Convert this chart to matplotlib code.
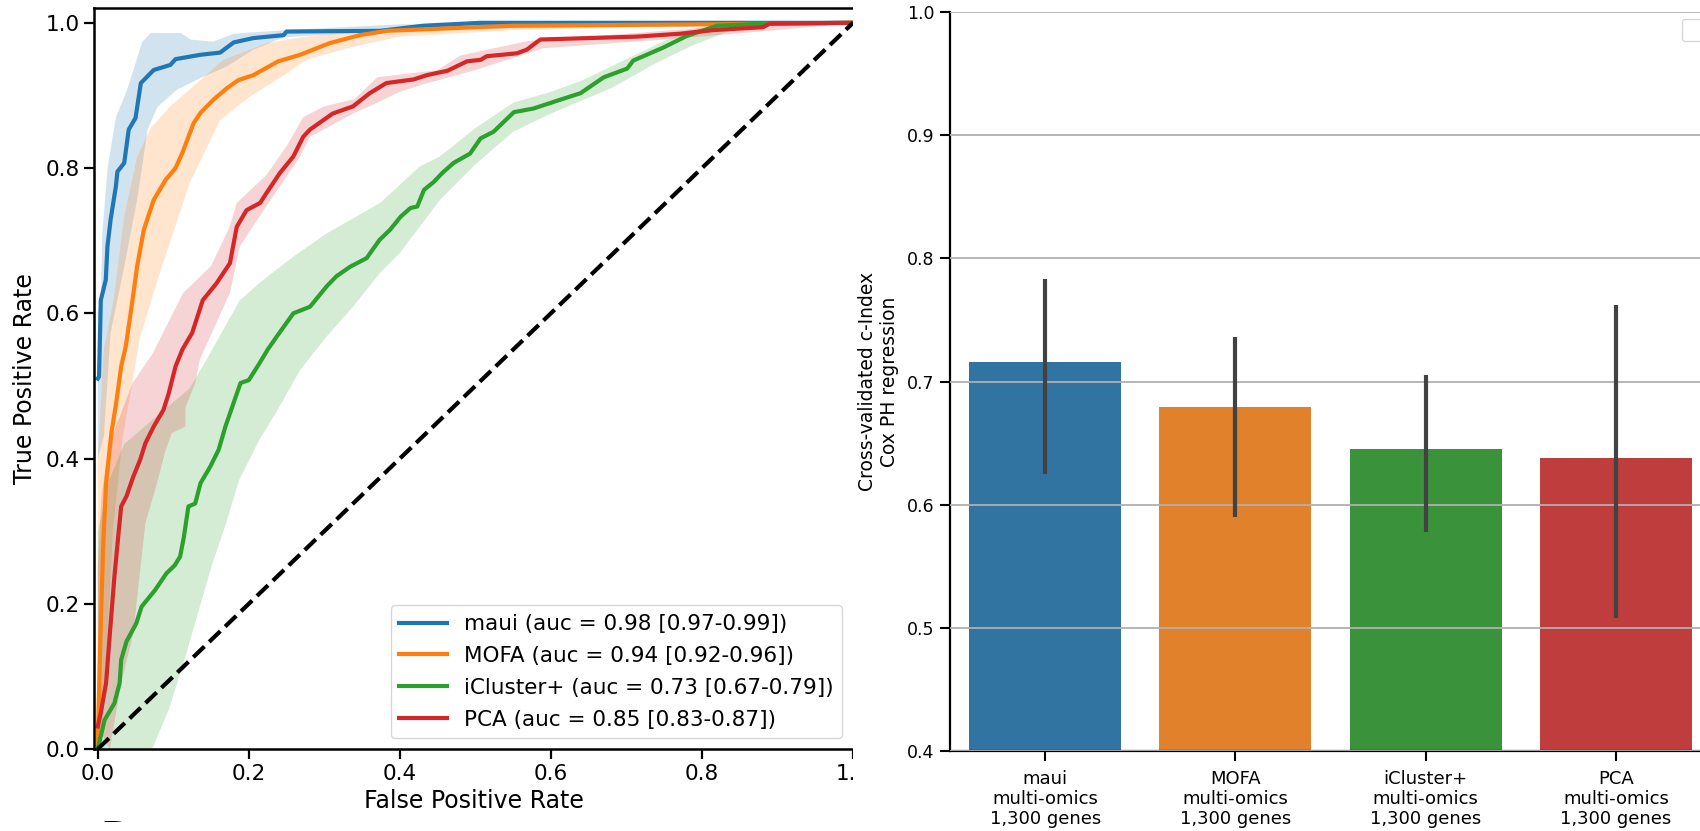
# -*- coding: utf-8 -*-
import numpy as np
import matplotlib
matplotlib.use('Agg')
import matplotlib.pyplot as plt
from matplotlib.patches import Rectangle

### ROC data (mean curve and band edges)
methods = ['maui', 'MOFA', 'iCluster+', 'PCA']
auc_labels = ['0.98 [0.97-0.99]', '0.94 [0.92-0.96]',
              '0.73 [0.67-0.79]', '0.85 [0.83-0.87]']

maui_fpr = [0.0, 0.0017, 0.004, 0.0106, 0.0128, 0.017, 0.024, 0.026, 0.035,
            0.041, 0.050, 0.057, 0.074, 0.096, 0.103, 0.136, 0.162, 0.180,
            0.206, 0.246, 0.250, 0.374, 0.431, 0.507, 1.0]
maui_tpr = [0.51, 0.513, 0.618, 0.646, 0.692, 0.729, 0.775, 0.795, 0.807,
            0.853, 0.869, 0.917, 0.935, 0.942, 0.950, 0.956, 0.959, 0.973,
            0.979, 0.983, 0.988, 0.989, 0.996, 1.0, 1.0]
maui_up_fpr = [0.0, 0.0, 0.004, 0.006, 0.013, 0.024, 0.039, 0.059, 0.07, 0.11,
               0.123, 0.153, 0.18, 0.25, 0.40, 1.0]
maui_up_tpr = [0.51, 0.60, 0.618, 0.71, 0.80, 0.87, 0.908, 0.974, 0.986, 0.986,
               0.977, 0.974, 0.985, 0.99, 0.998, 1.0]
maui_lo_fpr = [0.0, 0.008, 0.017, 0.035, 0.052, 0.066, 0.079, 0.105, 0.136,
               0.171, 0.206, 0.246, 0.40, 1.0]
maui_lo_tpr = [0.40, 0.43, 0.573, 0.664, 0.756, 0.853, 0.884, 0.908, 0.924,
               0.94, 0.963, 0.98, 0.99, 1.0]

mofa_fpr = [0.0, 0.0, 0.003, 0.007, 0.011, 0.018, 0.025, 0.031, 0.037, 0.046,
            0.052, 0.061, 0.074, 0.090, 0.103, 0.112, 0.127, 0.136, 0.153,
            0.171, 0.186, 0.206, 0.239, 0.268, 0.307, 0.347, 0.383, 0.55,
            0.82, 1.0]
mofa_tpr = [0.0, 0.01, 0.136, 0.274, 0.366, 0.435, 0.481, 0.527, 0.554, 0.618,
            0.664, 0.715, 0.756, 0.784, 0.800, 0.821, 0.862, 0.876, 0.894,
            0.910, 0.921, 0.928, 0.947, 0.956, 0.972, 0.983, 0.989, 0.996,
            0.998, 1.0]
mofa_up_fpr = [0.0, 0.0, 0.008, 0.021, 0.035, 0.052, 0.07, 0.096, 0.126, 0.166,
               0.224, 0.268, 0.31, 0.38, 0.5, 1.0]
mofa_up_tpr = [0.0, 0.40, 0.55, 0.618, 0.733, 0.815, 0.855, 0.885, 0.912, 0.949,
               0.972, 0.98, 0.985, 0.99, 0.998, 1.0]
mofa_lo_fpr = [0.005, 0.01, 0.02, 0.033, 0.045, 0.056, 0.082, 0.122, 0.162,
               0.201, 0.25, 0.276, 0.334, 0.4, 0.55, 1.0]
mofa_lo_tpr = [0.0, 0.1, 0.3, 0.43, 0.50, 0.567, 0.655, 0.78, 0.866, 0.898,
               0.93, 0.949, 0.966, 0.981, 0.99, 1.0]

iclus_fpr = [0.0, 0.009, 0.022, 0.029, 0.031, 0.038, 0.051, 0.058, 0.076,
             0.091, 0.102, 0.109, 0.114, 0.120, 0.129, 0.136, 0.149, 0.160,
             0.169, 0.178, 0.189, 0.200, 0.214, 0.225, 0.237, 0.259, 0.281,
             0.303, 0.316, 0.334, 0.356, 0.373, 0.387, 0.401, 0.414, 0.423,
             0.432, 0.445, 0.456, 0.471, 0.493, 0.507, 0.524, 0.551, 0.577,
             0.612, 0.639, 0.670, 0.701, 0.709, 0.749, 0.780, 0.820, 0.886, 1.0]
iclus_tpr = [0.0, 0.040, 0.063, 0.091, 0.123, 0.148, 0.173, 0.196, 0.219,
             0.242, 0.253, 0.265, 0.292, 0.334, 0.338, 0.366, 0.389, 0.412,
             0.444, 0.471, 0.504, 0.508, 0.531, 0.550, 0.568, 0.600, 0.609,
             0.637, 0.651, 0.664, 0.676, 0.701, 0.715, 0.733, 0.745, 0.747,
             0.770, 0.781, 0.793, 0.807, 0.820, 0.841, 0.850, 0.877, 0.882,
             0.894, 0.903, 0.925, 0.937, 0.948, 0.966, 0.982, 0.996, 0.999, 1.0]
iclus_up_fpr = [0.0, 0.0, 0.015, 0.035, 0.08, 0.122, 0.144, 0.188, 0.219, 0.259,
                0.303, 0.374, 0.426, 0.453, 0.50, 0.55, 0.60, 0.64, 0.70, 0.75,
                0.80, 0.88, 1.0]
iclus_up_tpr = [0.0, 0.30, 0.37, 0.42, 0.46, 0.497, 0.536, 0.618, 0.646, 0.678,
                0.710, 0.752, 0.802, 0.816, 0.855, 0.89, 0.905, 0.92, 0.95, 0.975,
                0.995, 1.0, 1.0]
iclus_lo_fpr = [0.072, 0.094, 0.116, 0.139, 0.152, 0.170, 0.187, 0.214, 0.236,
                0.268, 0.303, 0.338, 0.374, 0.40, 0.453, 0.50, 0.55,
                0.60, 0.68, 0.74, 0.79, 0.84, 0.9, 1.0]
iclus_lo_tpr = [0.0, 0.054, 0.127, 0.21, 0.256, 0.311, 0.37, 0.426, 0.463,
                0.522, 0.568, 0.609, 0.656, 0.683, 0.756, 0.805,
                0.85, 0.875, 0.91, 0.945, 0.97, 0.99, 1.0, 1.0]

pca_fpr = [0.0, 0.004, 0.011, 0.016, 0.022, 0.027, 0.031, 0.038, 0.047, 0.056,
           0.063, 0.074, 0.087, 0.094, 0.103, 0.112, 0.117, 0.125, 0.139,
           0.157, 0.175, 0.184, 0.197, 0.215, 0.223, 0.241, 0.259,
           0.272, 0.281, 0.311, 0.338, 0.360, 0.382, 0.418, 0.436,
           0.463, 0.489, 0.507, 0.515, 0.555, 0.568, 0.582, 0.586, 0.714,
           0.771, 0.815, 0.881, 0.890, 1.0]
pca_tpr = [0.031, 0.05, 0.091, 0.159, 0.237, 0.292, 0.334, 0.348, 0.375, 0.398,
           0.421, 0.444, 0.467, 0.490, 0.527, 0.550, 0.559, 0.573, 0.618,
           0.641, 0.669, 0.719, 0.742, 0.752, 0.765, 0.793, 0.816,
           0.843, 0.853, 0.875, 0.885, 0.903, 0.917, 0.922, 0.928,
           0.934, 0.947, 0.949, 0.954, 0.958, 0.963, 0.974, 0.977, 0.981,
           0.985, 0.990, 0.994, 0.999, 1.0]
pca_up_fpr = [0.0, 0.0, 0.005, 0.015, 0.03, 0.046, 0.073, 0.113, 0.15,
              0.175, 0.184, 0.223, 0.25, 0.272, 0.30, 0.34, 0.37, 0.45, 0.48,
              0.57, 0.7, 0.85, 1.0]
pca_up_tpr = [0.031, 0.25, 0.35, 0.42, 0.46, 0.504, 0.545, 0.628, 0.665,
              0.72, 0.752, 0.79, 0.83, 0.87, 0.885, 0.895, 0.925, 0.935, 0.955,
              0.975, 0.985, 0.997, 1.0]
pca_lo_fpr = [0.016, 0.031, 0.047, 0.063, 0.076, 0.09, 0.098, 0.116, 0.116,
              0.129, 0.135, 0.175, 0.188, 0.223, 0.268, 0.281, 0.338,
              0.37, 0.40, 0.43, 0.5, 0.59, 0.75, 0.9, 1.0]
pca_lo_tpr = [0.0, 0.091, 0.159, 0.311, 0.357, 0.412, 0.435, 0.444, 0.47,
              0.504, 0.536, 0.628, 0.692, 0.747, 0.816, 0.843, 0.875,
              0.89, 0.905, 0.915, 0.935, 0.965, 0.977, 0.99, 1.0]

roc_colors = ['#1f77b4', '#ff7f0e', '#2ca02c', '#d62728']

### c-index bar data
bar_labels = ['maui\nmulti-omics\n1,300 genes', 'MOFA\nmulti-omics\n1,300 genes',
              'iCluster+\nmulti-omics\n1,300 genes', 'PCA\nmulti-omics\n1,300 genes']
cindex = [0.716, 0.679, 0.645, 0.638]
cindex_lo = [0.625, 0.590, 0.578, 0.508]
cindex_hi = [0.783, 0.736, 0.705, 0.762]
bar_colors = ['#3274a1', '#e1812c', '#3a923a', '#c03d3e']

W, H = 1700., 831.


def plot_roc(ax):
    curves = [
        (maui_fpr, maui_tpr, maui_up_fpr, maui_up_tpr, maui_lo_fpr, maui_lo_tpr),
        (mofa_fpr, mofa_tpr, mofa_up_fpr, mofa_up_tpr, mofa_lo_fpr, mofa_lo_tpr),
        (iclus_fpr, iclus_tpr, iclus_up_fpr, iclus_up_tpr, iclus_lo_fpr, iclus_lo_tpr),
        (pca_fpr, pca_tpr, pca_up_fpr, pca_up_tpr, pca_lo_fpr, pca_lo_tpr),
    ]
    for i, (fx, fy, ux, uy, lx, ly) in enumerate(curves):
        c = roc_colors[i]
        ax.plot(fx, fy, c=c, lw=3,
                label='%s (auc = %s)' % (methods[i], auc_labels[i]))
        px = np.concatenate([ux, lx[::-1]])
        py = np.concatenate([uy, ly[::-1]])
        ax.fill(px, py, color=c, alpha=0.2, lw=0)

    ax.plot([0, 1], [0, 1], 'k--', lw=3)
    ax.set_xlim(-0.005, 1.0)
    ax.set_ylim(0, 1.02)
    ax.set_xticks([0, 0.2, 0.4, 0.6, 0.8, 1.0])
    ax.set_yticks([0, 0.2, 0.4, 0.6, 0.8, 1.0])
    ax.set_xlabel('False Positive Rate', fontsize=17)
    ax.set_ylabel('True Positive Rate', fontsize=17, labelpad=6)
    ax.tick_params(labelsize=15.5, length=7, width=1.6)
    ax.spines['right'].set_visible(False)
    for s in ['left', 'bottom', 'top']:
        ax.spines[s].set_linewidth(1.8)
    ax.legend(loc='lower right', fontsize=15.5, labelspacing=0.55,
              handlelength=2.2)


def plot_cindex(ax):
    x = np.arange(len(cindex))
    ax.bar(x, cindex, width=0.8, color=bar_colors, zorder=1)
    ax.vlines(x, cindex_lo, cindex_hi, color='#424242', lw=3, zorder=3)
    ax.set_xlim(-0.5, 3.5)
    ax.set_ylim(0.4, 1.0)
    ax.set_xticks(x)
    ax.set_xticklabels(bar_labels, fontsize=13, linespacing=1.15)
    ax.set_yticks([0.4, 0.5, 0.6, 0.7, 0.8, 0.9, 1.0])
    ax.tick_params(axis='y', labelsize=12.5)
    ax.tick_params(axis='x', pad=6)
    ax.tick_params(length=7.5, width=1.5)
    ax.set_ylabel('Cross-validated c-Index\nCox PH regression', fontsize=13.5,
                  labelpad=6)
    ax.yaxis.grid(True, color='#b0b0b0', lw=1.3)
    ax.set_axisbelow(False)
    ax.spines['top'].set_visible(False)
    ax.spines['right'].set_visible(False)
    for s in ['left', 'bottom']:
        ax.spines[s].set_linewidth(1.6)
    ax.legend(handles=[], loc='upper right', borderpad=0.8)


def main():
    fig = plt.figure(figsize=(17, 8.31), dpi=100)

    ax1 = fig.add_axes([94 / W, 1 - 749 / H, (853 - 94) / W, (749 - 8.3) / H])
    plot_roc(ax1)
    ax1.set_zorder(0)

    ### right panel is pasted over the left one
    fig.patches.append(Rectangle((853 / W, 0), 1, 1, transform=fig.transFigure,
                                 facecolor='white', edgecolor='none', zorder=0.5))

    ax2 = fig.add_axes([950 / W, 1 - 751 / H, 761 / W, (751 - 12) / H])
    plot_cindex(ax2)
    ax2.set_zorder(1)

    ### next panel letter, cut off by the crop of the left panel
    fig.text(100 / W, 1 - 850 / H, 'D', fontsize=28, fontweight='bold',
             ha='left', va='baseline', zorder=3)
    fig.patches.append(Rectangle((0, 0), 853 / W, 9 / H, transform=fig.transFigure,
                                 facecolor='white', edgecolor='none', zorder=4))

    fig.savefig('out.png', dpi=100)


if __name__ == '__main__':
    main()
